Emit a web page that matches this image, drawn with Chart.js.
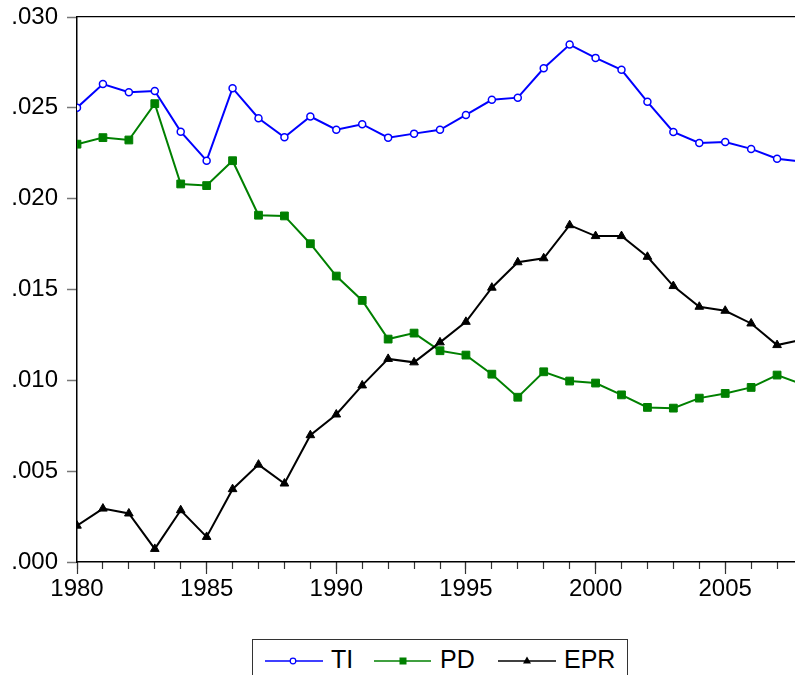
<!DOCTYPE html>
<html><head><meta charset="utf-8">
<script src="https://cdn.jsdelivr.net/npm/chart.js@4.4.1/dist/chart.umd.min.js"></script>
<style>
html,body{margin:0;padding:0;overflow:hidden;background:#fff;width:795px;height:675px}
#wrap{position:absolute;left:0;top:0;width:830px;height:675px}
#legend{position:absolute;left:252px;top:639px;width:376px;height:50px;border:1px solid #333;box-sizing:border-box;background:#fff}
#legend svg{position:absolute;left:0;top:0}
</style></head><body>
<div id="wrap"><canvas id="c" width="830" height="675"></canvas></div>
<div id="legend"></div>
<script>
const years = [1980,1981,1982,1983,1984,1985,1986,1987,1988,1989,1990,1991,1992,1993,1994,1995,1996,1997,1998,1999,2000,2001,2002,2003,2004,2005,2006,2007,2008];
const TI  = [0.02501,0.02631,0.02586,0.02593,0.02369,0.02209,0.02608,0.02443,0.02338,0.02452,0.02380,0.02410,0.02336,0.02358,0.02379,0.02461,0.02544,0.02556,0.02718,0.02848,0.02775,0.02709,0.02533,0.02367,0.02307,0.02312,0.02274,0.02220,0.02203];
const PD  = [0.02300,0.02336,0.02323,0.02523,0.02081,0.02072,0.02209,0.01909,0.01905,0.01752,0.01574,0.01440,0.01227,0.01260,0.01163,0.01139,0.01034,0.00907,0.01047,0.00996,0.00985,0.00920,0.00851,0.00847,0.00902,0.00928,0.00961,0.01029,0.00977];
const EPR = [0.00200,0.00294,0.00267,0.00072,0.00285,0.00138,0.00401,0.00536,0.00432,0.00698,0.00812,0.00972,0.01118,0.01099,0.01209,0.01322,0.01510,0.01650,0.01672,0.01854,0.01794,0.01794,0.01680,0.01519,0.01405,0.01383,0.01313,0.01194,0.01225];
const seriesNames = ['TI','PD','EPR'];
const yTickValues = [0,0.005,0.010,0.015,0.020,0.025,0.030];
const xLabelYears = [1980,1985,1990,1995,2000,2005];

const FONT = '"Liberation Sans", Arial, Helvetica, sans-serif';
const COLORS = ['#0000ff','#008000','#000000'];
const toXY = arr => arr.map((v,i)=>({x:years[i], y:v}));

const datasets = [
  {label:seriesNames[0], data:toXY(TI), borderColor:COLORS[0], borderWidth:2, pointStyle:'circle', pointRadius:3.5, pointBackgroundColor:'#ffffff', pointBorderColor:COLORS[0], pointBorderWidth:1.5, order:2},
  {label:seriesNames[1], data:toXY(PD), borderColor:COLORS[1], borderWidth:2, pointStyle:'rect', pointRadius:5.5, pointBackgroundColor:COLORS[1], pointBorderColor:COLORS[1], pointBorderWidth:1, order:1},
  {label:seriesNames[2], data:toXY(EPR), borderColor:COLORS[2], borderWidth:2, pointStyle:'triangle', pointRadius:5, pointBackgroundColor:COLORS[2], pointBorderColor:COLORS[2], pointBorderWidth:1, order:0}
].map(d=>Object.assign(d,{tension:0, fill:false, pointHoverRadius:d.pointRadius}));

const xMin = years[0], xMax = years[years.length-1];

new Chart(document.getElementById('c'), {
  type:'line',
  data:{datasets},
  options:{
    responsive:false, animation:false, events:[],
    layout:{padding:{left:0, top:17, right:27, bottom:0}},
    plugins:{legend:{display:false}, tooltip:{enabled:false}},
    scales:{
      xMinor:{type:'linear', position:'bottom', min:xMin, max:xMax, weight:-1,
        afterFit:s=>{s.height=0; s.paddingLeft=0; s.paddingRight=0;},
        border:{display:false},
        grid:{drawOnChartArea:false, tickLength:7, tickColor:'#333', tickWidth:1.2},
        ticks:{stepSize:1, includeBounds:false, autoSkip:false, maxRotation:0, callback:()=>''}},
      x:{type:'linear', position:'bottom', min:xMin, max:xMax, weight:0,
        afterFit:s=>{s.height=113; s.paddingLeft=0; s.paddingRight=0;},
        border:{color:'#000', width:1.5},
        grid:{drawOnChartArea:false, tickLength:12, tickColor:'#333', tickWidth:1.2},
        afterBuildTicks:s=>{s.ticks = xLabelYears.map(v=>({value:v}));},
        ticks:{includeBounds:false, autoSkip:false, maxRotation:0, padding:1, color:'#000', font:{family:FONT, size:24}, callback:v=>String(v)}},
      xTop:{type:'linear', position:'top', min:xMin, max:xMax,
        afterFit:s=>{s.height=0; s.paddingLeft=0; s.paddingRight=0;},
        border:{color:'#000', width:1.2},
        grid:{display:false}, ticks:{display:false}},
      y:{type:'linear', position:'left', min:0, max:0.03,
        afterFit:s=>{s.width=77; s.paddingTop=0; s.paddingBottom=0;},
        border:{color:'#000', width:1.5},
        grid:{drawOnChartArea:false, tickLength:10, tickColor:'#777', tickWidth:1.5},
        afterBuildTicks:s=>{s.ticks = yTickValues.map(v=>({value:v}));},
        ticks:{padding:9, color:'#000', font:{family:FONT, size:24}, callback:v=>v.toFixed(3).replace(/^0/,'')}}
    }
  }
});

// HTML/SVG legend built from series names and colors
(function(){
  const ns='http://www.w3.org/2000/svg';
  const svg=document.createElementNS(ns,'svg');
  svg.setAttribute('width','376'); svg.setAttribute('height','50');
  const items=[{x0:12,x1:70,m:40,tx:78},{x0:121,x1:178,m:150,tx:187},{x0:245,x1:303,m:274,tx:311}];
  const cy=21;
  items.forEach((it,i)=>{
    const ln=document.createElementNS(ns,'line');
    ln.setAttribute('x1',it.x0); ln.setAttribute('x2',it.x1); ln.setAttribute('y1',cy); ln.setAttribute('y2',cy);
    ln.setAttribute('stroke',COLORS[i]); ln.setAttribute('stroke-width','1.5');
    svg.appendChild(ln);
    let mk;
    if(i===0){mk=document.createElementNS(ns,'circle');mk.setAttribute('cx',it.m);mk.setAttribute('cy',cy);mk.setAttribute('r','2.8');mk.setAttribute('fill','#fff');mk.setAttribute('stroke',COLORS[0]);mk.setAttribute('stroke-width','1.2');}
    else if(i===1){mk=document.createElementNS(ns,'rect');mk.setAttribute('x',it.m-3.5);mk.setAttribute('y',cy-3.5);mk.setAttribute('width','7');mk.setAttribute('height','7');mk.setAttribute('fill',COLORS[1]);}
    else {mk=document.createElementNS(ns,'polygon');mk.setAttribute('points',`${it.m},${cy-4.5} ${it.m+4},${cy+2.5} ${it.m-4},${cy+2.5}`);mk.setAttribute('fill',COLORS[2]);}
    svg.appendChild(mk);
    const t=document.createElementNS(ns,'text');
    t.setAttribute('x',it.tx); t.setAttribute('y',28);
    t.setAttribute('font-family',FONT); t.setAttribute('font-size','25'); t.setAttribute('fill','#000');
    t.textContent=seriesNames[i];
    svg.appendChild(t);
  });
  document.getElementById('legend').appendChild(svg);
})();
</script>
</body></html>
